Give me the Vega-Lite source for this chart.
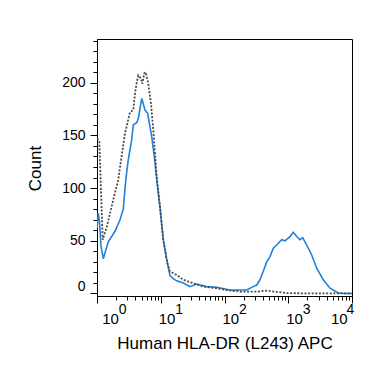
{
  "$schema": "https://vega.github.io/schema/vega-lite/v6.json",
  "width": 255,
  "height": 257,
  "autosize": "none",
  "padding": {"left": 97, "top": 39, "right": 22, "bottom": 73},
  "background": "white",
  "config": {
    "view": {"stroke": "black", "strokeWidth": 1},
    "font": "Liberation Sans",
    "axis": {"grid": false, "domainColor": "black", "tickColor": "black", "labelColor": "black", "titleColor": "black", "titleFontWeight": "normal", "labelOverlap": false}
  },
  "data": {
    "values": [
      {"s": "b", "x": 1.0, "c": 62}, {"s": "b", "x": 1.048, "c": 76}, {"s": "b", "x": 1.094, "c": 68},
      {"s": "b", "x": 1.155, "c": 45}, {"s": "b", "x": 1.256, "c": 33}, {"s": "b", "x": 1.359, "c": 40},
      {"s": "b", "x": 1.504, "c": 49}, {"s": "b", "x": 1.916, "c": 59}, {"s": "b", "x": 2.296, "c": 70},
      {"s": "b", "x": 2.585, "c": 80}, {"s": "b", "x": 2.749, "c": 100}, {"s": "b", "x": 2.92, "c": 115},
      {"s": "b", "x": 3.097, "c": 127}, {"s": "b", "x": 3.503, "c": 146}, {"s": "b", "x": 3.71, "c": 160},
      {"s": "b", "x": 4.195, "c": 162}, {"s": "b", "x": 4.444, "c": 166}, {"s": "b", "x": 5.025, "c": 185},
      {"s": "b", "x": 5.325, "c": 180}, {"s": "b", "x": 5.662, "c": 174}, {"s": "b", "x": 6.243, "c": 171},
      {"s": "b", "x": 6.543, "c": 163}, {"s": "b", "x": 7.211, "c": 149}, {"s": "b", "x": 7.922, "c": 130},
      {"s": "b", "x": 8.641, "c": 108}, {"s": "b", "x": 9.732, "c": 82}, {"s": "b", "x": 10.96, "c": 51},
      {"s": "b", "x": 12.4, "c": 32}, {"s": "b", "x": 13.97, "c": 17}, {"s": "b", "x": 15.74, "c": 14},
      {"s": "b", "x": 17.79, "c": 12}, {"s": "b", "x": 22.58, "c": 10}, {"s": "b", "x": 28.77, "c": 6.5},
      {"s": "b", "x": 36.64, "c": 9}, {"s": "b", "x": 52.59, "c": 6.5}, {"s": "b", "x": 75.45, "c": 5.9},
      {"s": "b", "x": 122, "c": 3.3}, {"s": "b", "x": 175, "c": 3.3}, {"s": "b", "x": 223, "c": 3.3},
      {"s": "b", "x": 283, "c": 6.5}, {"s": "b", "x": 320, "c": 8}, {"s": "b", "x": 360, "c": 13},
      {"s": "b", "x": 406, "c": 21}, {"s": "b", "x": 459, "c": 30}, {"s": "b", "x": 517, "c": 35},
      {"s": "b", "x": 583, "c": 43}, {"s": "b", "x": 659, "c": 46}, {"s": "b", "x": 789, "c": 51},
      {"s": "b", "x": 889, "c": 50}, {"s": "b", "x": 1065, "c": 54}, {"s": "b", "x": 1200, "c": 58},
      {"s": "b", "x": 1357, "c": 54}, {"s": "b", "x": 1529, "c": 51}, {"s": "b", "x": 1686, "c": 53},
      {"s": "b", "x": 1947, "c": 46}, {"s": "b", "x": 2333, "c": 36.5}, {"s": "b", "x": 2795, "c": 24},
      {"s": "b", "x": 3546, "c": 13}, {"s": "b", "x": 4517, "c": 5}, {"s": "b", "x": 6098, "c": 0.5},
      {"s": "b", "x": 7768, "c": 0}, {"s": "b", "x": 10000, "c": 0},
      {"s": "d", "x": 1.0, "c": 147}, {"s": "d", "x": 1.087, "c": 145}, {"s": "d", "x": 1.228, "c": 51},
      {"s": "d", "x": 1.419, "c": 63}, {"s": "d", "x": 1.801, "c": 89}, {"s": "d", "x": 2.159, "c": 108},
      {"s": "d", "x": 2.296, "c": 120}, {"s": "d", "x": 2.749, "c": 152}, {"s": "d", "x": 3.294, "c": 172},
      {"s": "d", "x": 3.71, "c": 174}, {"s": "d", "x": 3.946, "c": 190}, {"s": "d", "x": 4.195, "c": 200},
      {"s": "d", "x": 4.444, "c": 207}, {"s": "d", "x": 4.899, "c": 204}, {"s": "d", "x": 5.135, "c": 199},
      {"s": "d", "x": 5.521, "c": 209}, {"s": "d", "x": 5.806, "c": 210}, {"s": "d", "x": 6.378, "c": 199},
      {"s": "d", "x": 7.032, "c": 180}, {"s": "d", "x": 7.641, "c": 155}, {"s": "d", "x": 8.641, "c": 111},
      {"s": "d", "x": 9.732, "c": 82}, {"s": "d", "x": 10.96, "c": 51}, {"s": "d", "x": 12.67, "c": 29},
      {"s": "d", "x": 13.97, "c": 21}, {"s": "d", "x": 17.79, "c": 17.6}, {"s": "d", "x": 22.58, "c": 13},
      {"s": "d", "x": 32.41, "c": 9.7}, {"s": "d", "x": 46.51, "c": 6.5}, {"s": "d", "x": 75.45, "c": 5},
      {"s": "d", "x": 108.3, "c": 3.3}, {"s": "d", "x": 175, "c": 1.7}, {"s": "d", "x": 320, "c": 1.7},
      {"s": "d", "x": 459, "c": 2.7}, {"s": "d", "x": 946, "c": 0.3}, {"s": "d", "x": 3148, "c": 0},
      {"s": "d", "x": 10000, "c": 0}
    ]
  },
  "layer": [
    {
      "transform": [{"filter": "datum.s == 'b'"}],
      "mark": {"type": "line", "color": "#2180d8", "strokeWidth": 1.6, "clip": true},
      "encoding": {
        "x": {
          "field": "x", "type": "quantitative",
          "scale": {"type": "log", "domain": [1, 10000], "nice": false},
          "axis": {
            "orient": "bottom",
            "values": [2,3,4,5,6,7,8,9,20,30,40,50,60,70,80,90,200,300,400,500,600,700,800,900,2000,3000,4000,5000,6000,7000,8000,9000],
            "tickSize": 4,
            "labels": false,
            "title": null
          }
        },
        "y": {
          "field": "c", "type": "quantitative",
          "scale": {"domain": [-2.4, 241.5], "nice": false, "zero": false},
          "axis": {
            "orient": "left",
            "values": [10,20,30,40,60,70,80,90,110,120,130,140,160,170,180,190,210,220,230,240],
            "tickSize": 4,
            "labels": false,
            "title": null
          }
        }
      }
    },
    {
      "transform": [{"filter": "datum.s == 'd'"}],
      "mark": {"type": "line", "color": "#4a4a4a", "strokeWidth": 1.8, "strokeDash": [2, 1.6], "clip": true},
      "encoding": {
        "x": {
          "field": "x", "type": "quantitative",
          "scale": {"type": "log", "domain": [1, 10000], "nice": false},
          "axis": {
            "orient": "bottom",
            "values": [1, 10, 100, 1000, 10000],
            "labelExpr": "'10'",
            "tickSize": 7,
            "labelAlign": "left",
            "labelOffset": {"condition": [{"test": "datum.value == 1", "value": 4.7}, {"test": "datum.value == 10000", "value": -21.5}], "value": -2.5},
            "labelBaseline": "top",
            "labelPadding": 8,
            "labelFontSize": 15,
            "labelFlush": false,
            "labelBound": false,
            "title": "Human HLA-DR (L243) APC",
            "titleFontSize": 17,
            "titleBaseline": "alphabetic",
            "titleAlign": "center",
            "titleX": 127.5,
            "titleY": 52
          }
        },
        "y": {
          "field": "c", "type": "quantitative",
          "scale": {"domain": [-2.4, 241.5], "nice": false, "zero": false},
          "axis": {
            "orient": "left",
            "values": [0, 50, 100, 150, 200],
            "tickSize": 7,
            "labelFontSize": 14,
            "labelPadding": 5,
            "labelFlush": 3,
            "title": "Count",
            "titleFontSize": 17,
            "titleAngle": -90,
            "titleBaseline": "alphabetic",
            "titleAlign": "center",
            "titleX": -57,
            "titleY": 129
          }
        }
      }
    },
    {
      "transform": [{"filter": "datum.s == 'd'"}],
      "mark": {"type": "line", "strokeOpacity": 0, "clip": true},
      "encoding": {
        "x": {
          "field": "x", "type": "quantitative",
          "scale": {"type": "log", "domain": [1, 10000], "nice": false},
          "axis": {
            "orient": "bottom",
            "values": [1, 10, 100, 1000, 10000],
            "labelExpr": "datum.value == 1 ? '0' : datum.value == 10 ? '1' : datum.value == 100 ? '2' : datum.value == 1000 ? '3' : '4'",
            "ticks": false,
            "tickSize": 0,
            "domain": false,
            "title": null,
            "labelAlign": "left",
            "labelBaseline": "top",
            "labelPadding": 6,
            "labelOffset": {"condition": [{"test": "datum.value == 1", "value": 21.3}, {"test": "datum.value == 10000", "value": -6}], "value": 14},
            "labelFontSize": 14,
            "labelFlush": false,
            "labelBound": false
          }
        },
        "y": {
          "field": "c", "type": "quantitative",
          "scale": {"domain": [-2.4, 241.5], "nice": false, "zero": false},
          "axis": null
        }
      }
    }
  ],
  "resolve": {"axis": {"x": "independent", "y": "independent"}}
}
